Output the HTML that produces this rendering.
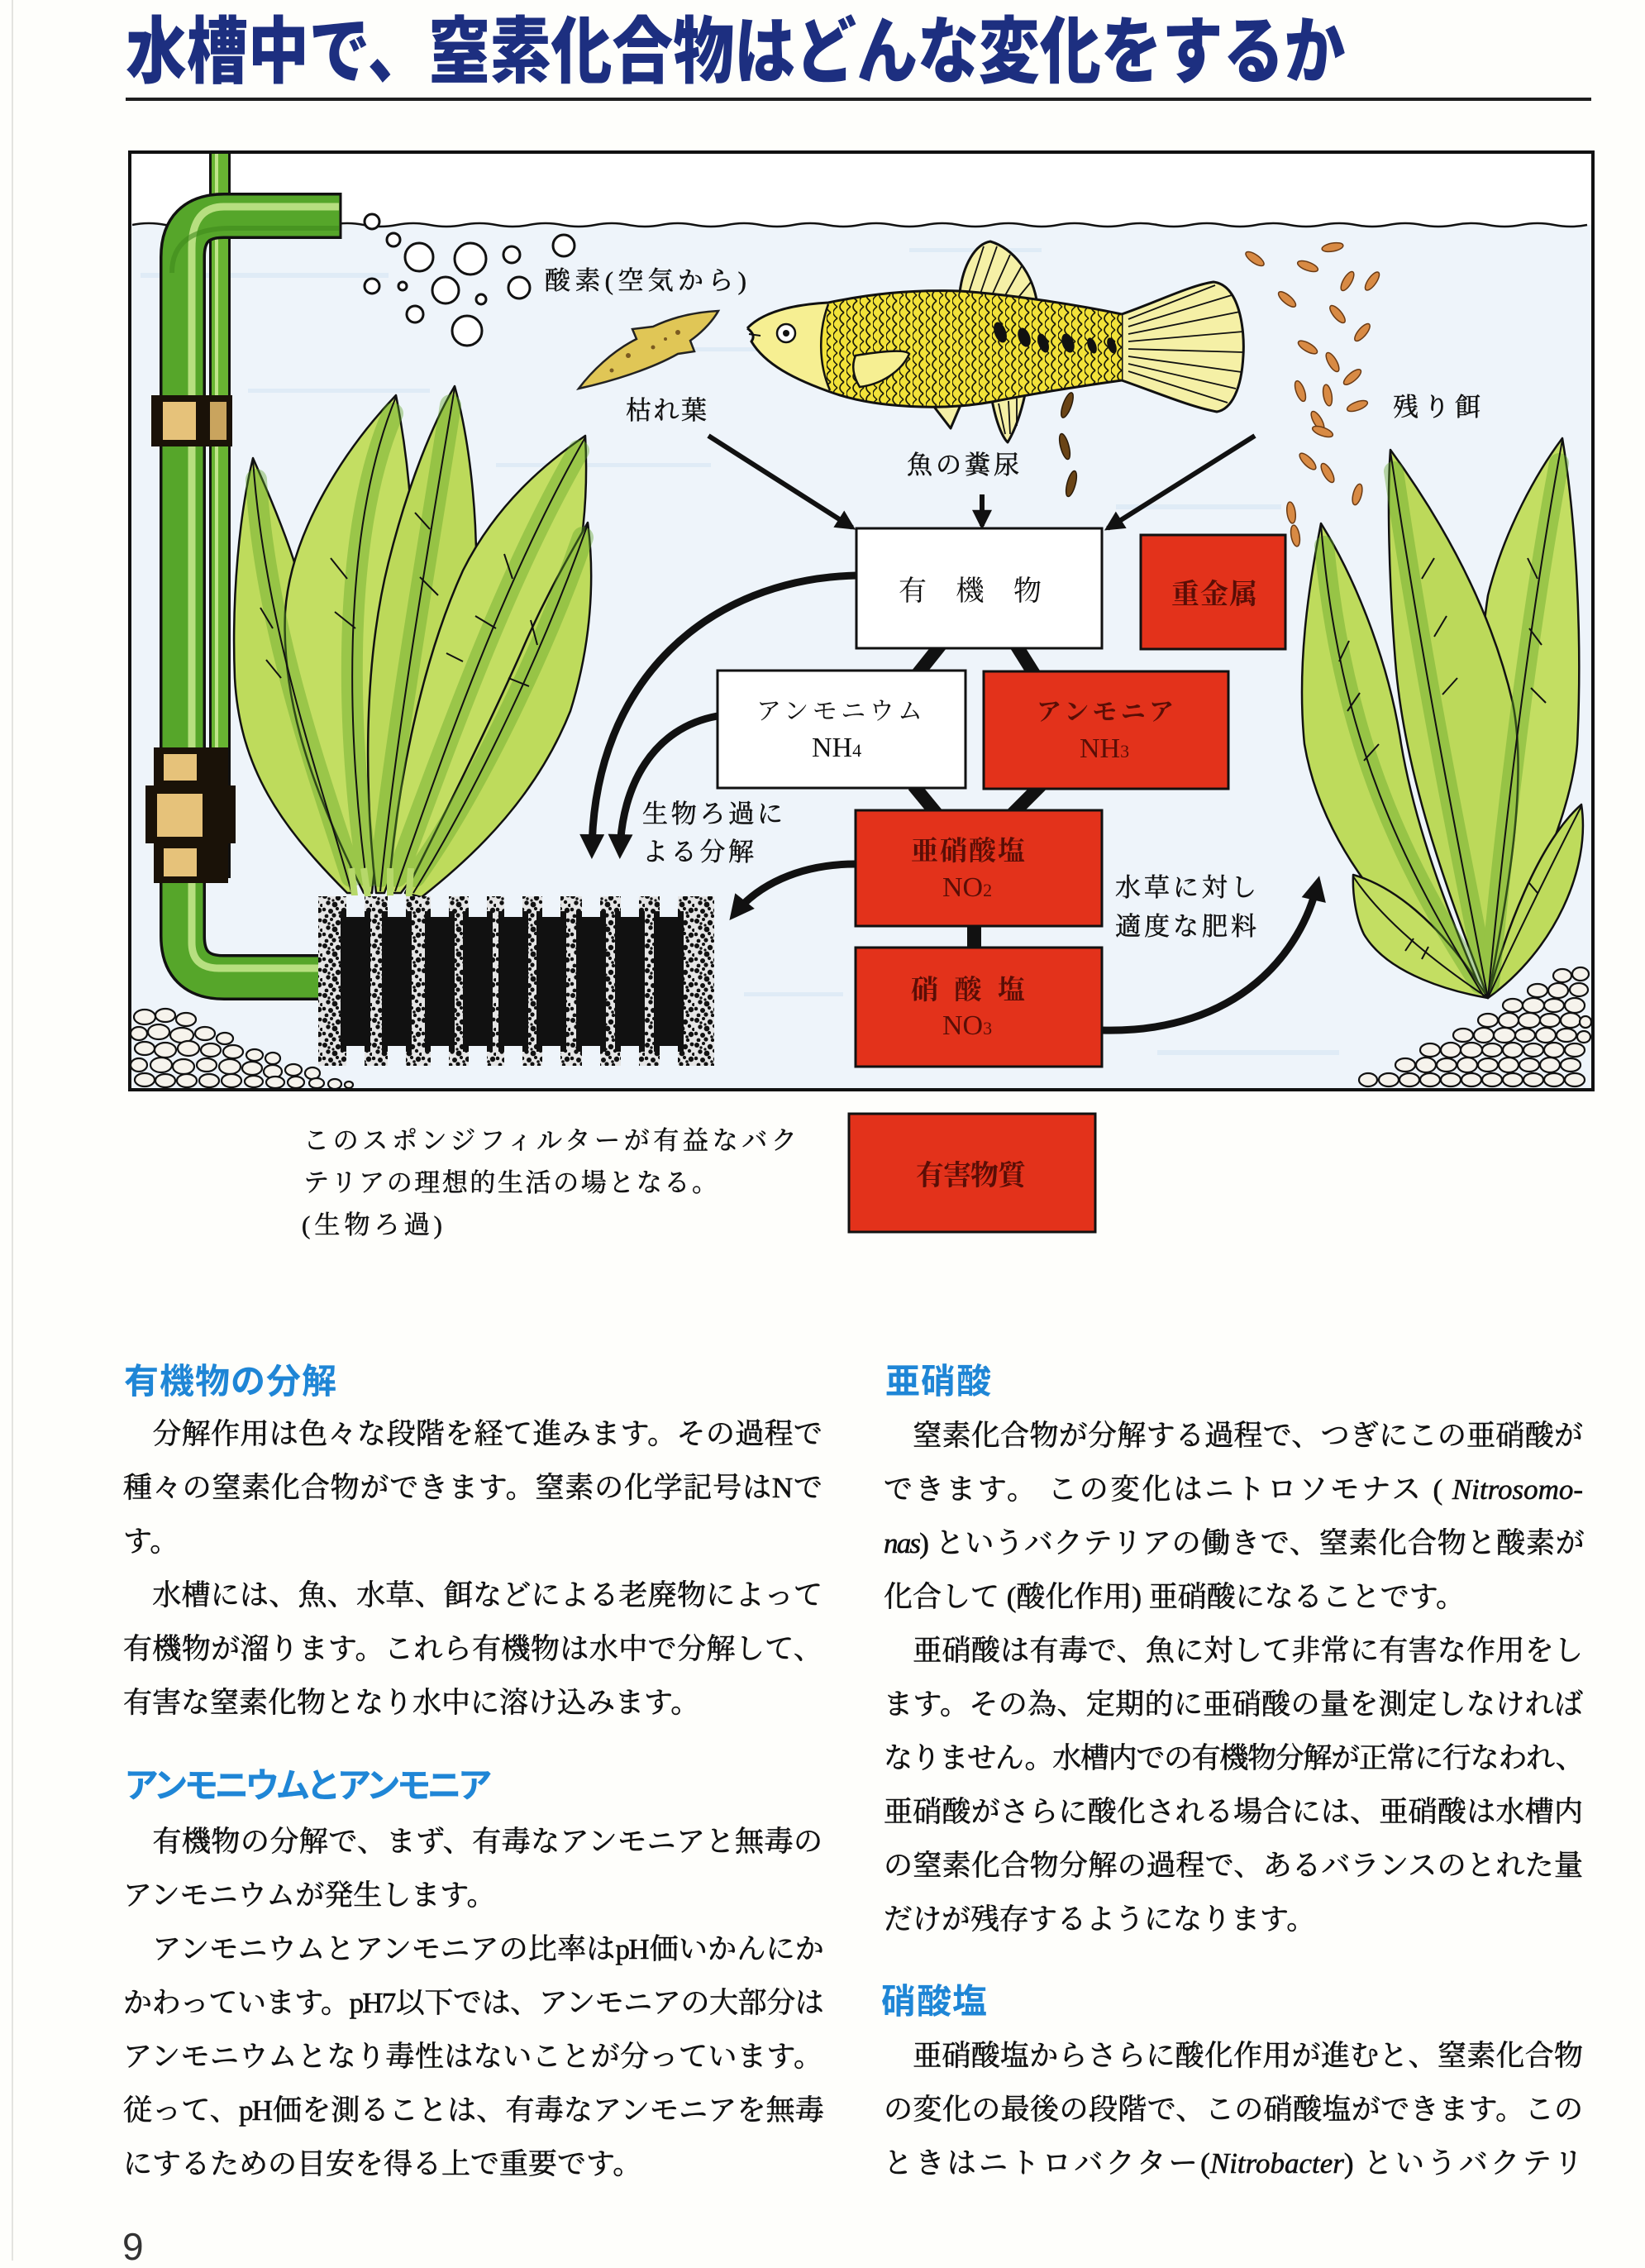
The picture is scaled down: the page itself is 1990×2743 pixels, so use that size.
<!DOCTYPE html>
<html lang="ja">
<head>
<meta charset="utf-8">
<style>
html,body{margin:0;padding:0;}
body{width:1990px;height:2734px;position:relative;overflow:hidden;background:#fefefb;}
.title{position:absolute;left:152px;top:12px;font-family:"Noto Sans CJK JP",sans-serif;font-weight:900;font-size:88px;line-height:88px;color:#1d2f80;transform:scaleX(0.84);transform-origin:0 0;white-space:nowrap;}
.rule{position:absolute;left:152px;top:118px;width:1773px;height:4px;background:#1e1e1e;}
.edge{position:absolute;left:14px;top:0;width:2px;height:2734px;background:#e4e4e0;}
.hd{position:absolute;font-family:"Noto Sans CJK JP",sans-serif;font-weight:700;font-size:42px;line-height:50px;color:#1f86d6;white-space:nowrap;}
.col{position:absolute;width:846px;font-family:"Liberation Serif","Noto Serif CJK SC",serif;font-size:35px;line-height:65px;color:#111;-webkit-text-stroke:0.6px #111;}
.col div{height:65px;overflow:visible;}
.j{text-align:justify;text-align-last:justify;}
.t{letter-spacing:-1.8px;}
.pn{position:absolute;left:148px;top:2692px;font-family:"Liberation Sans",sans-serif;font-size:46px;line-height:50px;color:#333;}
svg{position:absolute;left:0;top:0;}
</style>
</head>
<body>
<div class="edge"></div>
<div class="title">水槽中で、窒素化合物はどんな変化をするか</div>
<div class="rule"></div>

<svg width="1990" height="1520" viewBox="0 0 1990 1520" xmlns="http://www.w3.org/2000/svg">
<defs>
  <marker id="ah" viewBox="0 0 10 10" refX="8" refY="5" markerWidth="26" markerHeight="24" markerUnits="userSpaceOnUse" orient="auto">
    <path d="M0 0 L10 5 L0 10 z" fill="#111"/>
  </marker>
  <marker id="ah2" viewBox="0 0 10 10" refX="7" refY="5" markerWidth="32" markerHeight="30" markerUnits="userSpaceOnUse" orient="auto">
    <path d="M0 0 L10 5 L0 10 z" fill="#111"/>
  </marker>
  <pattern id="speck" width="30" height="30" patternUnits="userSpaceOnUse">
    <rect width="30" height="30" fill="#e4e4e4"/>
    <g fill="#111">
      <circle cx="3" cy="4" r="3"/><circle cx="11" cy="2" r="2"/><circle cx="19" cy="6" r="3.2"/>
      <circle cx="27" cy="3" r="2.4"/><circle cx="7" cy="12" r="2.7"/><circle cx="15" cy="14" r="3.4"/>
      <circle cx="24" cy="11" r="2.2"/><circle cx="2" cy="20" r="2.3"/><circle cx="10" cy="22" r="3"/>
      <circle cx="18" cy="19" r="2.1"/><circle cx="26" cy="21" r="3.2"/><circle cx="5" cy="28" r="2.4"/>
      <circle cx="14" cy="27" r="2.6"/><circle cx="22" cy="28" r="2.2"/><circle cx="29" cy="15" r="2"/>
      <circle cx="8" cy="7" r="1.7"/><circle cx="21" cy="24" r="1.8"/><circle cx="13" cy="9" r="1.6"/>
    </g>
  </pattern>
  <pattern id="scales" width="16" height="14" patternUnits="userSpaceOnUse">
    <path d="M13 0 Q3 7 13 14" fill="none" stroke="#1a1a0a" stroke-width="1.7"/>
    <path d="M5 -7 Q-5 0 5 7 M5 7 Q-5 14 5 21" fill="none" stroke="#1a1a0a" stroke-width="1.5"/>
  </pattern>
  <clipPath id="fbody">
    <path d="M904 397 C925 375 965 368 1002 366 C1050 356 1100 350 1161 352 C1220 356 1300 368 1357 380 L1357 460 C1300 468 1250 476 1200 486 C1140 497 1060 493 1010 476 C960 459 925 440 909 413 Q915 405 904 397 Z"/>
  </clipPath>
</defs>

<!-- tank background -->
<rect x="158" y="185" width="1768" height="1132" fill="#ffffff"/>
<rect x="158" y="272" width="1768" height="1045" fill="#eef4fa"/>
<g fill="#dbe9f5" opacity="0.8">
  <rect x="170" y="330" width="300" height="6"/><rect x="760" y="420" width="380" height="5"/>
  <rect x="1350" y="610" width="200" height="6"/><rect x="900" y="1200" width="120" height="5"/>
  <rect x="1400" y="1270" width="220" height="6"/><rect x="600" y="560" width="260" height="5"/>
  <rect x="300" y="470" width="220" height="5"/><rect x="1100" y="300" width="160" height="5"/>
</g>
<!-- water line -->
<path d="M160 272 q20 -4 40 0 t40 0 t40 0 t40 0 t40 0 t40 0 t40 0 t40 0 t40 0 t40 0 t40 0 t40 0 t40 0 t40 0 t40 0 t40 0 t40 0 t40 0 t40 0 t40 0 t40 0 t40 0 t40 0 t40 0 t40 0 t40 0 t40 0 t40 0 t40 0 t40 0 t40 0 t40 0 t40 0 t40 0 t40 0 t40 0 t40 0 t40 0 t40 0 t40 0 t40 0 t40 0 t40 0 t40 0" fill="none" stroke="#111" stroke-width="2.5"/>

<!-- bubbles -->
<g fill="#fff" stroke="#111" stroke-width="3">
  <circle cx="450" cy="268" r="9"/><circle cx="476" cy="290" r="8"/><circle cx="507" cy="311" r="17"/>
  <circle cx="569" cy="313" r="19"/><circle cx="619" cy="308" r="10"/><circle cx="682" cy="297" r="13"/>
  <circle cx="450" cy="346" r="9"/><circle cx="487" cy="346" r="5"/><circle cx="539" cy="351" r="16"/>
  <circle cx="582" cy="362" r="6"/><circle cx="628" cy="348" r="13"/><circle cx="502" cy="380" r="10"/>
  <circle cx="565" cy="400" r="18"/>
</g>

<!-- thin tube -->
<path d="M266 186 L266 1062" stroke="#111" stroke-width="26" fill="none"/>
<path d="M266 186 L266 1062" stroke="#68b432" stroke-width="20" fill="none"/>
<path d="M262 186 L262 1062" stroke="#bfe38a" stroke-width="4" fill="none"/>
<!-- main pipe -->
<path d="M412 261 L271 261 Q221 261 221 311 L221 1132 Q221 1182 271 1182 L392 1182" fill="none" stroke="#111" stroke-width="56"/>
<path d="M412 261 L271 261 Q221 261 221 311 L221 1132 Q221 1182 271 1182 L392 1182" fill="none" stroke="#56a62a" stroke-width="49"/>
<path d="M410 250 L271 250 Q232 250 232 300 L232 1140 Q232 1171 265 1171 L390 1171" fill="none" stroke="#c2e68a" stroke-width="9" opacity="0.9"/>
<path d="M410 276 L280 276 Q208 276 208 330" fill="none" stroke="#3f8a1c" stroke-width="6" opacity="0.6"/>
<line x1="412" y1="233" x2="412" y2="289" stroke="#111" stroke-width="3"/>
<!-- clamps -->
<rect x="183" y="478" width="98" height="62" fill="#1a1208"/>
<rect x="197" y="486" width="40" height="46" fill="#e6c27a"/>
<rect x="254" y="486" width="20" height="46" fill="#c9a45e"/>
<rect x="186" y="904" width="90" height="48" fill="#1a1208"/>
<rect x="176" y="950" width="109" height="70" fill="#1a1208"/>
<rect x="186" y="1018" width="90" height="50" fill="#1a1208"/>
<rect x="198" y="912" width="40" height="32" fill="#e6c27a"/>
<rect x="190" y="960" width="55" height="52" fill="#e6c27a"/>
<rect x="198" y="1026" width="40" height="34" fill="#e6c27a"/>

<!-- left plant -->
<g stroke="#111" stroke-width="2.5" stroke-linejoin="round">
  <path d="M420 1080 C340 1000 290 930 284 820 C280 720 290 620 306 554 C335 620 370 700 385 800 C400 900 415 1000 430 1080 Z" fill="#bedb5c"/>
  <path d="M440 1080 C380 960 340 850 345 740 C352 640 420 540 479 478 C495 560 505 660 495 760 C485 870 460 980 450 1080 Z" fill="#c3de62"/>
  <path d="M455 1080 C440 950 440 800 470 680 C495 580 525 510 550 467 C570 540 580 640 575 740 C565 860 500 980 465 1080 Z" fill="#bcd95a"/>
  <path d="M470 1080 C480 950 510 800 560 690 C600 610 660 560 708 527 C712 600 705 680 680 760 C640 880 560 980 485 1080 Z" fill="#c3de62"/>
  <path d="M490 1080 C540 980 590 880 630 790 C660 720 690 670 711 632 C720 700 715 780 690 860 C650 960 580 1030 510 1085 Z" fill="#bedb5c"/>
</g>
<g fill="none" stroke="#5fa326" stroke-width="26" opacity="0.4" stroke-linecap="round">
  <path d="M425 1060 C390 950 320 760 310 580"/>
  <path d="M445 1060 C420 900 410 650 475 500"/>
  <path d="M460 1060 C480 880 520 650 545 490"/>
  <path d="M480 1060 C540 900 610 700 700 545"/>
  <path d="M502 1060 C580 950 660 780 705 650"/>
</g>
<g fill="none" stroke="#111" stroke-width="2">
  <path d="M425 1078 C390 950 320 760 306 556"/>
  <path d="M445 1078 C420 900 410 650 479 480"/>
  <path d="M460 1078 C480 880 520 650 550 469"/>
  <path d="M478 1078 C540 900 610 700 708 529"/>
  <path d="M500 1080 C580 950 660 780 711 634"/>
  <path d="M330 760 l-15 -25 M340 820 l-18 -22 M420 700 l-20 -25 M430 760 l-25 -20 M520 640 l-18 -20 M530 720 l-22 -22 M620 700 l-10 -30 M600 760 l-25 -15 M650 780 l-8 -30 M640 830 l-25 -10 M560 800 l-20 -10"/>
</g>
<path d="M425 1050 L430 1092 M440 1050 L446 1092 M472 1050 L472 1092 M497 1050 L494 1092" stroke="#b6d86a" stroke-width="8"/>

<!-- sponge filter -->
<rect x="385" y="1084" width="479" height="205" fill="url(#speck)"/>
<g fill="#111">
  <rect x="412" y="1102" width="36" height="170"/><rect x="462" y="1102" width="36" height="170"/>
  <rect x="514" y="1102" width="36" height="170"/><rect x="560" y="1102" width="36" height="170"/>
  <rect x="603" y="1102" width="36" height="170"/><rect x="649" y="1102" width="36" height="170"/>
  <rect x="697" y="1102" width="36" height="170"/><rect x="744" y="1102" width="36" height="170"/>
  <rect x="791" y="1102" width="36" height="170"/>
</g>
<g fill="#eef4fa">
  <rect x="419" y="1083" width="22" height="26"/><rect x="469" y="1083" width="22" height="26"/>
  <rect x="521" y="1083" width="22" height="26"/><rect x="567" y="1083" width="22" height="26"/>
  <rect x="610" y="1083" width="22" height="26"/><rect x="656" y="1083" width="22" height="26"/>
  <rect x="704" y="1083" width="22" height="26"/><rect x="751" y="1083" width="22" height="26"/>
  <rect x="798" y="1083" width="22" height="26"/>
  <rect x="419" y="1265" width="22" height="25"/><rect x="469" y="1265" width="22" height="25"/>
  <rect x="521" y="1265" width="22" height="25"/><rect x="567" y="1265" width="22" height="25"/>
  <rect x="610" y="1265" width="22" height="25"/><rect x="656" y="1265" width="22" height="25"/>
  <rect x="704" y="1265" width="22" height="25"/><rect x="751" y="1265" width="22" height="25"/>
  <rect x="798" y="1265" width="22" height="25"/>
</g>

<!-- left gravel -->
<g fill="#f6f3ec" stroke="#111" stroke-width="2.2">
  <ellipse cx="175" cy="1230" rx="13" ry="9"/><ellipse cx="200" cy="1228" rx="12" ry="8"/><ellipse cx="225" cy="1233" rx="12" ry="8"/>
  <ellipse cx="168" cy="1250" rx="10" ry="8"/><ellipse cx="192" cy="1248" rx="13" ry="9"/><ellipse cx="220" cy="1252" rx="14" ry="9"/><ellipse cx="248" cy="1250" rx="12" ry="8"/><ellipse cx="272" cy="1256" rx="10" ry="7"/>
  <ellipse cx="175" cy="1268" rx="12" ry="8"/><ellipse cx="200" cy="1270" rx="13" ry="9"/><ellipse cx="228" cy="1268" rx="13" ry="9"/><ellipse cx="255" cy="1270" rx="12" ry="8"/><ellipse cx="282" cy="1272" rx="12" ry="8"/><ellipse cx="308" cy="1276" rx="10" ry="7"/><ellipse cx="330" cy="1280" rx="9" ry="7"/>
  <ellipse cx="168" cy="1288" rx="10" ry="8"/><ellipse cx="195" cy="1288" rx="13" ry="9"/><ellipse cx="222" cy="1290" rx="13" ry="9"/><ellipse cx="250" cy="1288" rx="12" ry="8"/><ellipse cx="278" cy="1290" rx="13" ry="9"/><ellipse cx="305" cy="1292" rx="12" ry="8"/><ellipse cx="330" cy="1296" rx="11" ry="8"/><ellipse cx="355" cy="1294" rx="10" ry="7"/><ellipse cx="378" cy="1298" rx="9" ry="7"/>
  <ellipse cx="175" cy="1306" rx="12" ry="8"/><ellipse cx="200" cy="1307" rx="12" ry="8"/><ellipse cx="226" cy="1307" rx="12" ry="8"/><ellipse cx="253" cy="1307" rx="12" ry="8"/><ellipse cx="280" cy="1307" rx="12" ry="8"/><ellipse cx="307" cy="1308" rx="11" ry="7"/><ellipse cx="333" cy="1309" rx="11" ry="7"/><ellipse cx="358" cy="1309" rx="10" ry="7"/><ellipse cx="383" cy="1310" rx="9" ry="6"/><ellipse cx="405" cy="1311" rx="8" ry="6"/><ellipse cx="422" cy="1312" rx="5" ry="4"/>
</g>

<!-- right plant -->
<g stroke="#111" stroke-width="2.5" stroke-linejoin="round">
  <path d="M1795 1205 C1700 1140 1600 1030 1578 900 C1568 800 1585 700 1598 633 C1640 700 1680 800 1695 900 C1712 1000 1750 1100 1795 1205 Z" fill="#bedb5c"/>
  <path d="M1800 1207 C1790 1050 1780 850 1800 720 C1820 640 1860 570 1890 530 C1905 620 1915 760 1908 900 C1900 1000 1840 1100 1800 1207 Z" fill="#c3de62"/>
  <path d="M1800 1207 C1760 1100 1700 950 1688 800 C1680 700 1678 600 1682 544 C1730 610 1800 720 1830 850 C1850 950 1820 1100 1800 1207 Z" fill="#bcd95a"/>
  <path d="M1800 1207 C1760 1200 1680 1180 1650 1130 C1640 1110 1636 1080 1637 1058 C1680 1070 1740 1110 1800 1207 Z" fill="#c3de62"/>
  <path d="M1800 1207 C1820 1130 1860 1020 1913 973 C1925 1050 1880 1150 1800 1207 Z" fill="#bedb5c"/>
</g>
<g fill="none" stroke="#5fa326" stroke-width="24" opacity="0.4" stroke-linecap="round">
  <path d="M1790 1190 C1700 1050 1625 900 1602 660"/>
  <path d="M1798 1190 C1760 1000 1720 800 1686 570"/>
  <path d="M1802 1190 C1820 1000 1850 750 1886 560"/>
</g>
<g fill="none" stroke="#111" stroke-width="2">
  <path d="M1795 1205 C1700 1050 1620 900 1598 635"/>
  <path d="M1800 1207 C1760 1000 1720 800 1682 546"/>
  <path d="M1800 1207 C1820 1000 1850 750 1890 532"/>
  <path d="M1800 1207 C1730 1160 1670 1110 1637 1060"/>
  <path d="M1800 1207 C1840 1120 1880 1040 1913 975"/>
  <path d="M1620 800 l12 -25 M1630 860 l15 -22 M1650 920 l18 -20 M1720 700 l15 -25 M1735 770 l15 -25 M1745 840 l18 -20 M1860 700 l-12 -25 M1865 780 l-15 -20 M1870 850 l-18 -18 M1700 1150 l10 -15 M1720 1160 l8 -15 M1860 1080 l-10 -12"/>
</g>

<!-- right gravel -->
<g fill="#f6f3ec" stroke="#111" stroke-width="2.2">
  <ellipse cx="1890" cy="1180" rx="11" ry="8"/><ellipse cx="1912" cy="1178" rx="10" ry="8"/>
  <ellipse cx="1860" cy="1198" rx="12" ry="8"/><ellipse cx="1885" cy="1198" rx="12" ry="9"/><ellipse cx="1910" cy="1197" rx="11" ry="8"/>
  <ellipse cx="1830" cy="1216" rx="12" ry="8"/><ellipse cx="1855" cy="1216" rx="13" ry="9"/><ellipse cx="1880" cy="1216" rx="12" ry="8"/><ellipse cx="1905" cy="1216" rx="12" ry="9"/>
  <ellipse cx="1800" cy="1234" rx="12" ry="8"/><ellipse cx="1825" cy="1234" rx="12" ry="9"/><ellipse cx="1850" cy="1234" rx="13" ry="9"/><ellipse cx="1875" cy="1234" rx="12" ry="8"/><ellipse cx="1900" cy="1234" rx="12" ry="9"/><ellipse cx="1918" cy="1236" rx="7" ry="7"/>
  <ellipse cx="1770" cy="1252" rx="12" ry="8"/><ellipse cx="1795" cy="1252" rx="12" ry="9"/><ellipse cx="1820" cy="1252" rx="13" ry="9"/><ellipse cx="1845" cy="1252" rx="12" ry="8"/><ellipse cx="1870" cy="1252" rx="12" ry="9"/><ellipse cx="1895" cy="1252" rx="12" ry="8"/><ellipse cx="1916" cy="1254" rx="8" ry="7"/>
  <ellipse cx="1730" cy="1270" rx="12" ry="8"/><ellipse cx="1755" cy="1270" rx="12" ry="9"/><ellipse cx="1780" cy="1270" rx="13" ry="9"/><ellipse cx="1805" cy="1270" rx="12" ry="8"/><ellipse cx="1830" cy="1270" rx="12" ry="9"/><ellipse cx="1855" cy="1270" rx="12" ry="8"/><ellipse cx="1880" cy="1270" rx="12" ry="9"/><ellipse cx="1905" cy="1270" rx="12" ry="8"/>
  <ellipse cx="1700" cy="1288" rx="12" ry="8"/><ellipse cx="1725" cy="1288" rx="12" ry="9"/><ellipse cx="1750" cy="1288" rx="12" ry="8"/><ellipse cx="1775" cy="1288" rx="12" ry="9"/><ellipse cx="1800" cy="1288" rx="12" ry="8"/><ellipse cx="1825" cy="1288" rx="12" ry="9"/><ellipse cx="1850" cy="1288" rx="12" ry="8"/><ellipse cx="1875" cy="1288" rx="12" ry="9"/><ellipse cx="1900" cy="1288" rx="12" ry="8"/>
  <ellipse cx="1655" cy="1306" rx="11" ry="8"/><ellipse cx="1680" cy="1306" rx="12" ry="8"/><ellipse cx="1705" cy="1306" rx="12" ry="8"/><ellipse cx="1730" cy="1306" rx="12" ry="8"/><ellipse cx="1755" cy="1306" rx="12" ry="8"/><ellipse cx="1780" cy="1306" rx="12" ry="8"/><ellipse cx="1805" cy="1306" rx="12" ry="8"/><ellipse cx="1830" cy="1306" rx="12" ry="8"/><ellipse cx="1855" cy="1306" rx="12" ry="8"/><ellipse cx="1880" cy="1306" rx="12" ry="8"/><ellipse cx="1905" cy="1306" rx="12" ry="8"/>
</g>

<!-- dead leaf -->
<path d="M700 470 C715 450 740 425 770 410 L765 398 L790 395 C805 388 830 378 869 376 C860 392 845 405 835 412 L840 425 L820 428 C790 445 745 460 700 470 Z" fill="#e0c656" stroke="#222" stroke-width="2.5"/>
<g fill="#7a5a20"><circle cx="760" cy="430" r="3"/><circle cx="790" cy="420" r="2.5"/><circle cx="820" cy="402" r="3"/><circle cx="740" cy="448" r="2.5"/><circle cx="805" cy="410" r="2"/></g>

<!-- fish -->
<g stroke="#111" stroke-width="3" stroke-linejoin="round">
  <path d="M1357 380 C1400 365 1440 345 1468 341 C1500 345 1506 400 1504 430 C1502 470 1490 495 1472 498 C1440 492 1400 475 1357 460 Z" fill="#f5f0a6"/>
  <path d="M1161 354 C1165 320 1180 295 1198 292 C1225 300 1250 330 1255 369 Z" fill="#f5f0a6"/>
  <path d="M1200 484 C1205 510 1212 528 1219 535 C1228 520 1235 500 1240 477 Z" fill="#f5f0a6"/>
  <path d="M1130 492 L1150 518 L1162 490 Z" fill="#f5f0a6"/>
</g>
<g stroke="#111" stroke-width="1.8" fill="none">
  <path d="M1365 386 L1470 345 M1365 395 L1490 357 M1365 404 L1500 377 M1365 413 L1504 401 M1365 422 L1504 426 M1365 431 L1502 450 M1365 440 L1495 470 M1365 449 L1485 487"/>
  <path d="M1172 354 L1190 298 M1186 355 L1206 298 M1200 357 L1222 308 M1215 359 L1237 320 M1230 362 L1248 340"/>
  <path d="M1208 488 L1216 525 M1220 485 L1222 525 M1230 482 L1230 515"/>
</g>
<path d="M904 397 C925 375 965 368 1002 366 C1050 356 1100 350 1161 352 C1220 356 1300 368 1357 380 L1357 460 C1300 468 1250 476 1200 486 C1140 497 1060 493 1010 476 C960 459 925 440 909 413 Q915 405 904 397 Z" fill="#f2e23a"/>
<rect x="1000" y="340" width="360" height="160" fill="url(#scales)" clip-path="url(#fbody)"/>
<path d="M904 397 C925 375 965 368 1002 366 C988 400 988 440 1004 474 C960 459 925 440 909 413 Q915 405 904 397 Z" fill="#f6ef92"/>
<path d="M1002 368 C990 400 990 440 1004 472" fill="none" stroke="#111" stroke-width="2.5"/>
<path d="M904 397 C925 375 965 368 1002 366 C1050 356 1100 350 1161 352 C1220 356 1300 368 1357 380 M1357 460 C1300 468 1250 476 1200 486 C1140 497 1060 493 1010 476 C960 459 925 440 909 413 Q915 405 904 397" fill="none" stroke="#111" stroke-width="3"/>
<path d="M906 404 L920 406" stroke="#111" stroke-width="2"/>
<path d="M1035 430 C1065 425 1095 422 1100 428 C1090 450 1065 465 1040 468 C1032 455 1030 442 1035 430 Z" fill="#f6ef92" stroke="#111" stroke-width="2.5"/>
<circle cx="951" cy="403" r="11" fill="#fff" stroke="#111" stroke-width="2.5"/>
<circle cx="951" cy="403" r="4" fill="#111"/>
<g fill="#111">
  <ellipse cx="1210" cy="402" rx="7" ry="13" transform="rotate(-20 1210 402)"/>
  <ellipse cx="1239" cy="408" rx="7" ry="12" transform="rotate(-20 1239 408)"/>
  <ellipse cx="1262" cy="415" rx="6" ry="12" transform="rotate(-20 1262 415)"/>
  <ellipse cx="1292" cy="415" rx="7" ry="12" transform="rotate(-20 1292 415)"/>
  <ellipse cx="1321" cy="418" rx="5" ry="10" transform="rotate(-20 1321 418)"/>
  <ellipse cx="1345" cy="418" rx="5" ry="10" transform="rotate(-20 1345 418)"/>
</g>

<!-- droppings -->
<g fill="#6a4416" stroke="#2a1a08" stroke-width="1.5">
  <ellipse cx="1291" cy="490" rx="5" ry="16" transform="rotate(20 1291 490)"/>
  <ellipse cx="1288" cy="540" rx="5" ry="16" transform="rotate(-15 1288 540)"/>
  <ellipse cx="1296" cy="585" rx="5" ry="16" transform="rotate(15 1296 585)"/>
</g>
<!-- food pellets -->
<g fill="#d88a44" stroke="#6a3a14" stroke-width="1.5">
  <ellipse cx="1518" cy="313" rx="13" ry="5" transform="rotate(35 1518 313)"/>
  <ellipse cx="1612" cy="299" rx="13" ry="5" transform="rotate(-10 1612 299)"/>
  <ellipse cx="1582" cy="322" rx="13" ry="5" transform="rotate(20 1582 322)"/>
  <ellipse cx="1630" cy="340" rx="13" ry="5" transform="rotate(-60 1630 340)"/>
  <ellipse cx="1660" cy="340" rx="13" ry="5" transform="rotate(-55 1660 340)"/>
  <ellipse cx="1557" cy="362" rx="13" ry="5" transform="rotate(40 1557 362)"/>
  <ellipse cx="1618" cy="380" rx="13" ry="5" transform="rotate(50 1618 380)"/>
  <ellipse cx="1648" cy="402" rx="13" ry="5" transform="rotate(-50 1648 402)"/>
  <ellipse cx="1582" cy="420" rx="13" ry="5" transform="rotate(30 1582 420)"/>
  <ellipse cx="1612" cy="438" rx="13" ry="5" transform="rotate(60 1612 438)"/>
  <ellipse cx="1636" cy="456" rx="13" ry="5" transform="rotate(-40 1636 456)"/>
  <ellipse cx="1573" cy="473" rx="13" ry="5" transform="rotate(70 1573 473)"/>
  <ellipse cx="1606" cy="478" rx="13" ry="5" transform="rotate(80 1606 478)"/>
  <ellipse cx="1642" cy="491" rx="13" ry="5" transform="rotate(-20 1642 491)"/>
  <ellipse cx="1594" cy="509" rx="13" ry="5" transform="rotate(60 1594 509)"/>
  <ellipse cx="1600" cy="522" rx="13" ry="5" transform="rotate(20 1600 522)"/>
  <ellipse cx="1582" cy="558" rx="13" ry="5" transform="rotate(45 1582 558)"/>
  <ellipse cx="1606" cy="572" rx="13" ry="5" transform="rotate(60 1606 572)"/>
  <ellipse cx="1642" cy="598" rx="13" ry="5" transform="rotate(-75 1642 598)"/>
  <ellipse cx="1562" cy="620" rx="13" ry="5" transform="rotate(82 1562 620)"/>
  <ellipse cx="1567" cy="648" rx="13" ry="5" transform="rotate(80 1567 648)"/>
</g>

<!-- straight arrows -->
<g stroke="#111" stroke-width="6" fill="none">
  <line x1="857" y1="527" x2="1031" y2="638" marker-end="url(#ah)"/>
  <line x1="1188" y1="598" x2="1188" y2="636" marker-end="url(#ah)"/>
  <line x1="1518" y1="527" x2="1340" y2="639" marker-end="url(#ah)"/>
</g>
<!-- thick connectors -->
<g stroke="#111" stroke-width="16" stroke-linecap="butt">
  <line x1="1138" y1="780" x2="1110" y2="815"/>
  <line x1="1229" y1="780" x2="1251" y2="815"/>
  <line x1="1105" y1="950" x2="1133" y2="984"/>
  <line x1="1259" y1="950" x2="1225" y2="984"/>
</g>
<rect x="1170" y="1118" width="17" height="29" fill="#111"/>
<!-- curved arrows -->
<g stroke="#111" stroke-width="9" fill="none">
  <path d="M1036 696 C860 700 718 820 716 1030" marker-end="url(#ah2)"/>
  <path d="M868 866 C790 880 752 950 750 1030" marker-end="url(#ah2)"/>
  <path d="M1035 1045 C965 1045 915 1072 888 1106" marker-end="url(#ah2)"/>
  <path d="M1333 1246 C1500 1250 1575 1150 1594 1068" marker-end="url(#ah2)"/>
</g>

<!-- boxes -->
<g stroke="#111" stroke-width="3">
  <rect x="1036" y="639" width="297" height="145" fill="#ffffff"/>
  <rect x="1380" y="647" width="175" height="138" fill="#e3321b"/>
  <rect x="868" y="811" width="300" height="142" fill="#ffffff"/>
  <rect x="1190" y="812" width="296" height="142" fill="#e3321b"/>
  <rect x="1035" y="980" width="298" height="140" fill="#e3321b"/>
  <rect x="1035" y="1146" width="298" height="144" fill="#e3321b"/>
  <rect x="1027" y="1347" width="298" height="143" fill="#e3321b"/>
</g>

<!-- box labels -->
<g style="font-family:'Liberation Serif','Noto Serif CJK SC',serif;" fill="#111">
  <text x="1087" y="726" font-size="34" textLength="173" lengthAdjust="spacing">有　機　物</text>
  <text x="915" y="870" font-size="30" textLength="201" lengthAdjust="spacing">アンモニウム</text>
  <text x="982" y="915" font-size="34">NH<tspan font-size="22">4</tspan></text>
</g>
<g style="font-family:'Liberation Serif','Noto Serif CJK SC',serif;" fill="#5a0e06" font-weight="bold">
  <text x="1417" y="730" font-size="34" textLength="104" lengthAdjust="spacing">重金属</text>
  <text x="1254" y="871" font-size="30" textLength="166" lengthAdjust="spacing">アンモニア</text>
  <text x="1306" y="916" font-size="34" font-weight="normal">NH<tspan font-size="22">3</tspan></text>
  <text x="1102" y="1040" font-size="33" textLength="138" lengthAdjust="spacing">亜硝酸塩</text>
  <text x="1140" y="1084" font-size="34" font-weight="normal">NO<tspan font-size="22">2</tspan></text>
  <text x="1102" y="1208" font-size="33" textLength="138" lengthAdjust="spacing">硝 酸 塩</text>
  <text x="1140" y="1251" font-size="34" font-weight="normal">NO<tspan font-size="22">3</tspan></text>
  <text x="1108" y="1433" font-size="34" textLength="133" lengthAdjust="spacing">有害物質</text>
</g>

<!-- diagram labels -->
<g style="font-family:'Liberation Serif','Noto Serif CJK SC',serif;" fill="#111" font-size="31" stroke="#111" stroke-width="0.5">
  <text x="659" y="350" textLength="244" lengthAdjust="spacing">酸素(空気から)</text>
  <text x="757" y="507" textLength="98" lengthAdjust="spacing">枯れ葉</text>
  <text x="1097" y="573" textLength="136" lengthAdjust="spacing">魚の糞尿</text>
  <text x="1685" y="503" textLength="106" lengthAdjust="spacing">残り餌</text>
  <text x="777" y="995" textLength="170" lengthAdjust="spacing">生物ろ過に</text>
  <text x="777" y="1041" textLength="135" lengthAdjust="spacing">よる分解</text>
  <text x="1349" y="1084" textLength="171" lengthAdjust="spacing">水草に対し</text>
  <text x="1349" y="1131" textLength="171" lengthAdjust="spacing">適度な肥料</text>
  <text x="367" y="1390" textLength="597" lengthAdjust="spacing">このスポンジフィルターが有益なバク</text>
  <text x="367" y="1441" textLength="501" lengthAdjust="spacing">テリアの理想的生活の場となる。</text>
  <text x="365" y="1492" textLength="170" lengthAdjust="spacing">(生物ろ過)</text>
</g>

<!-- tank frame -->
<rect x="157" y="184" width="1770" height="1134" fill="none" stroke="#111" stroke-width="4"/>
</svg>

<!-- text columns -->
<div class="hd" style="left:150px;top:1643px;letter-spacing:1px;">有機物の分解</div>
<div class="col" style="left:149px;top:1702px;">
  <div class="j">　分解作用は色々な段階を経て進みます。その過程で</div>
  <div class="j">種々の窒素化合物ができます。窒素の化学記号はNで</div>
  <div>す。</div>
  <div class="j">　水槽には、魚、水草、餌などによる老廃物によって</div>
  <div class="j">有機物が溜ります。これら有機物は水中で分解して、</div>
  <div>有害な窒素化物となり水中に溶け込みます。</div>
</div>

<div class="hd" style="left:150px;top:2132px;letter-spacing:-5px;">アンモニウムとアンモニア</div>
<div class="col" style="left:149px;top:2195px;">
  <div class="j">　有機物の分解で、まず、有毒なアンモニアと無毒の</div>
  <div>アンモニウムが発生します。</div>
  <div class="j t">　アンモニウムとアンモニアの比率はpH価いかんにか</div>
  <div class="j t">かわっています。pH7以下では、アンモニアの大部分は</div>
  <div class="j">アンモニウムとなり毒性はないことが分っています。</div>
  <div class="j t">従って、pH価を測ることは、有毒なアンモニアを無毒</div>
  <div>にするための目安を得る上で重要です。</div>
</div>

<div class="hd" style="left:1071px;top:1643px;letter-spacing:1px;">亜硝酸</div>
<div class="col" style="left:1069px;top:1704px;">
  <div class="j">　窒素化合物が分解する過程で、つぎにこの亜硝酸が</div>
  <div class="j">できます。 この変化はニトロソモナス ( <i>Nitrosomo-</i></div>
  <div class="j t"><i>nas</i>) というバクテリアの働きで、窒素化合物と酸素が</div>
  <div>化合して (酸化作用) 亜硝酸になることです。</div>
  <div class="j">　亜硝酸は有毒で、魚に対して非常に有害な作用をし</div>
  <div class="j">ます。その為、定期的に亜硝酸の量を測定しなければ</div>
  <div class="j t">なりません。水槽内での有機物分解が正常に行なわれ、</div>
  <div class="j">亜硝酸がさらに酸化される場合には、亜硝酸は水槽内</div>
  <div class="j">の窒素化合物分解の過程で、あるバランスのとれた量</div>
  <div>だけが残存するようになります。</div>
</div>

<div class="hd" style="left:1066px;top:2393px;letter-spacing:1px;">硝酸塩</div>
<div class="col" style="left:1069px;top:2454px;">
  <div class="j">　亜硝酸塩からさらに酸化作用が進むと、窒素化合物</div>
  <div class="j">の変化の最後の段階で、この硝酸塩ができます。この</div>
  <div class="j">ときはニトロバクター(<i>Nitrobacter</i>) というバクテリ</div>
</div>

<div class="pn">9</div>
</body>
</html>
